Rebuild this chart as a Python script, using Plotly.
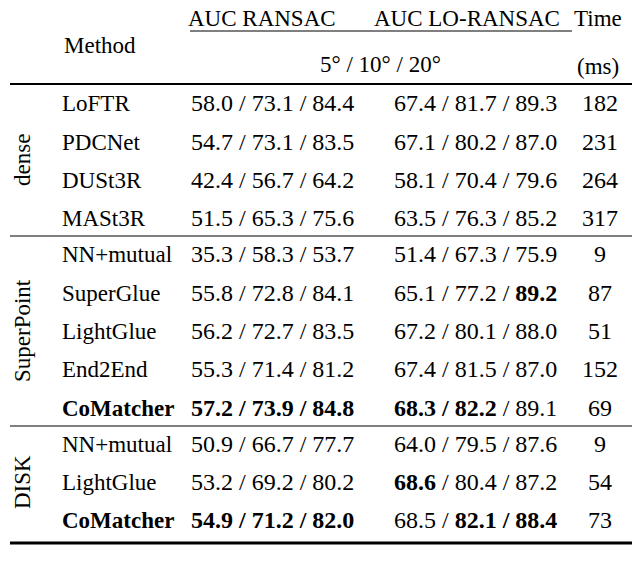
import plotly.graph_objects as go

groups = ["dense", "SuperPoint", "DISK"]
group_methods = [
    ["LoFTR", "PDCNet", "DUSt3R", "MASt3R"],
    ["NN+mutual", "SuperGlue", "LightGlue", "End2End", "CoMatcher"],
    ["NN+mutual", "LightGlue", "CoMatcher"],
]
ransac = [
    [(58.0, 73.1, 84.4), (54.7, 73.1, 83.5), (42.4, 56.7, 64.2), (51.5, 65.3, 75.6)],
    [(35.3, 58.3, 53.7), (55.8, 72.8, 84.1), (56.2, 72.7, 83.5), (55.3, 71.4, 81.2), (57.2, 73.9, 84.8)],
    [(50.9, 66.7, 77.7), (53.2, 69.2, 80.2), (54.9, 71.2, 82.0)],
]
lo_ransac = [
    [(67.4, 81.7, 89.3), (67.1, 80.2, 87.0), (58.1, 70.4, 79.6), (63.5, 76.3, 85.2)],
    [(51.4, 67.3, 75.9), (65.1, 77.2, 89.2), (67.2, 80.1, 88.0), (67.4, 81.5, 87.0), (68.3, 82.2, 89.1)],
    [(64.0, 79.5, 87.6), (68.6, 80.4, 87.2), (68.5, 82.1, 88.4)],
]
times = [[182, 231, 264, 317], [9, 87, 51, 152, 69], [9, 54, 73]]
# bold flags per value (ransac triple, lo-ransac triple)
bold_ransac = {(1, 4): (1, 1, 1), (2, 2): (1, 1, 1)}
bold_lo = {(1, 1): (0, 0, 1), (1, 4): (1, 1, 0), (2, 1): (1, 0, 0), (2, 2): (0, 1, 1)}
bold_method = {(1, 4), (2, 2)}


def fmt(vals, flags):
    parts = []
    for v, b in zip(vals, flags):
        s = f"{v:.1f}"
        parts.append(f"<b>{s}</b>" if b else s)
    out = parts[0]
    for i in range(1, 3):
        sep = " / "
        if flags[i - 1] and flags[i]:
            sep = "<b> / </b>"
        out += sep + parts[i]
    return out


font = dict(family="Liberation Serif", size=23, color="black")
numfont = dict(family="Liberation Serif", size=24, color="black")
fig = go.Figure()
ann = []
shapes = []


def txt(x, y, s, anchor="center", angle=0, f=font):
    ann.append(dict(x=x, y=y, text=s, xref="x", yref="y", showarrow=False,
                    xanchor=anchor, yanchor="middle", font=f, textangle=angle))


def hline(y, x0, x1, w):
    shapes.append(dict(type="line", xref="x", yref="y", x0=x0, x1=x1, y0=y, y1=y,
                       line=dict(color="black", width=w)))


# header
txt(100, 45, "Method")
txt(262, 18, "AUC RANSAC")
txt(467, 18, "AUC LO-RANSAC")
txt(598, 18, "Time")
txt(380, 64, "5° / 10° / 20°")
txt(598, 66, "(ms)")
hline(1.5, 10, 640, 3)
hline(31, 190, 572, 1.2)
hline(84, 10, 640, 2.2)

row_y = [[103, 142, 180, 218], [254, 293, 331, 369, 408], [444, 482, 520]]
group_y = [160, 331, 482]
sep_y = [236, 426]
for g in range(3):
    txt(22, group_y[g], groups[g], angle=-90)
    for r, m in enumerate(group_methods[g]):
        y = row_y[g][r]
        name = f"<b>{m}</b>" if (g, r) in bold_method else m
        txt(60, y, name, anchor="left")
        txt(272, y, fmt(ransac[g][r], bold_ransac.get((g, r), (0, 0, 0))), f=numfont)
        txt(475, y, fmt(lo_ransac[g][r], bold_lo.get((g, r), (0, 0, 0))), f=numfont)
        txt(600, y, str(times[g][r]), f=numfont)
for y in sep_y:
    hline(y, 10, 640, 1.2)
hline(543, 10, 640, 3)

ann.append(dict(x=0, y=576, xref="x", yref="y", showarrow=False, xanchor="left",
                yanchor="middle", font=font,
                text="Table 2. <b>Relative pose estimation on MegaDepth.</b> We report the"))

fig.update_layout(
    width=640, height=580, margin=dict(l=0, r=0, t=0, b=0),
    plot_bgcolor="white", paper_bgcolor="white",
    xaxis=dict(range=[8, 648], visible=False),
    yaxis=dict(range=[588, 8], visible=False),
    annotations=ann, shapes=shapes, showlegend=False,
)
fig.write_html("out.html")
